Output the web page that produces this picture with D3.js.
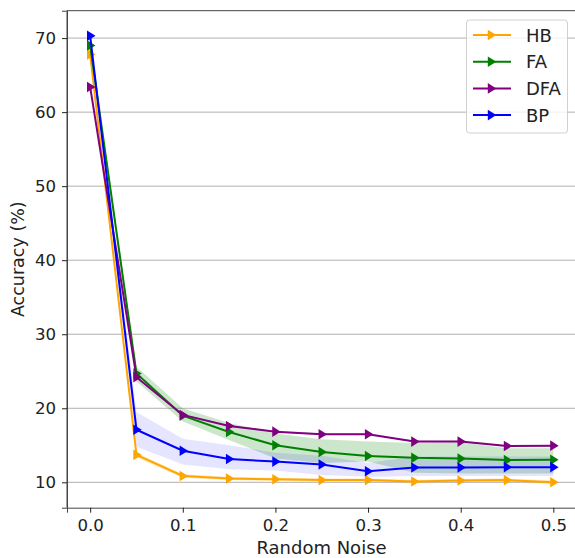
<!DOCTYPE html>
<html>
<head>
<meta charset="utf-8">
<script src="https://cdn.jsdelivr.net/npm/d3@7"></script>
<style>
  body { margin: 0; background: #fff; }
  text { font-family: "DejaVu Sans", sans-serif; fill: #222; }
</style>
</head>
<body>
<div id="chart"></div>
<script>
// data
const noise = [0, 0.05, 0.1, 0.15, 0.2, 0.25, 0.3, 0.35, 0.4, 0.45, 0.5];
const seriesNames = ['HB', 'FA', 'DFA', 'BP'];
const hbMean  = [67.8, 13.7, 10.85, 10.5, 10.4, 10.3, 10.3, 10.1, 10.25, 10.3, 10.0];
const faMean  = [69.0, 24.7, 19.0, 16.8, 15.0, 14.1, 13.55, 13.3, 13.2, 13.0, 13.05];
const dfaMean = [63.4, 24.2, 19.1, 17.6, 16.84, 16.5, 16.5, 15.5, 15.5, 14.9, 14.95];
const bpMean  = [70.3, 17.1, 14.27, 13.15, 12.8, 12.4, 11.5, 12.0, 12.0, 12.05, 12.05];
const hbLow   = [67.6, 13.4, 10.6, 10.3, 10.2, 10.1, 10.1, 9.9, 10.05, 10.1, 9.75];
const hbHigh  = [68.0, 14.0, 11.1, 10.7, 10.6, 10.5, 10.5, 10.3, 10.45, 10.5, 10.25];
const faLow   = [68.6, 23.6, 18.2, 15.7, 13.2, 12.6, 12.8, 11.3, 11.2, 11.2, 11.2];
const faHigh  = [69.4, 25.6, 20.0, 18.0, 16.6, 15.8, 15.5, 15.3, 15.4, 14.6, 14.6];
const dfaLow  = [63.3, 24.1, 19.0, 17.5, 16.75, 16.4, 16.4, 15.4, 15.4, 14.8, 14.85];
const dfaHigh = [63.5, 24.3, 19.2, 17.7, 16.95, 16.6, 16.6, 15.6, 15.6, 15.0, 15.05];
const bpLow   = [70.0, 14.8, 12.4, 11.75, 11.6, 11.0, 10.75, 10.85, 10.85, 10.85, 10.85];
const bpHigh  = [70.6, 19.5, 15.9, 15.0, 14.0, 13.6, 12.6, 13.5, 13.5, 13.5, 13.5];
const xTicks = [0, 0.1, 0.2, 0.3, 0.4, 0.5];
const yTicks = [10, 20, 30, 40, 50, 60, 70];

const width = 575;
const height = 558;
const plot = { left: 67, top: 10.7, right: 576.5, bottom: 507.7 };

const svg = d3.select('div#chart').append('svg').attr('width', width).attr('height', height);

const x = d3.scaleLinear().domain([-0.025, 0.525]).range([plot.left, plot.right]);
const y = d3.scaleLinear().domain([6.57, 73.7]).range([plot.bottom, plot.top]);

// grid
svg.append('g').selectAll('line').data(yTicks).enter().append('line')
    .attr('x1', plot.left).attr('x2', plot.right)
    .attr('y1', d => y(d)).attr('y2', d => y(d))
    .attr('stroke', '#b0b0b0').attr('stroke-width', 1);

const series = [
    { name: 'HB',  color: '#ffa500', mean: hbMean,  low: hbLow,  high: hbHigh,  alpha: 0.3 },
    { name: 'FA',  color: '#008000', mean: faMean,  low: faLow,  high: faHigh,  alpha: 0.2 },
    { name: 'DFA', color: '#800080', mean: dfaMean, low: dfaLow, high: dfaHigh, alpha: 0.2 },
    { name: 'BP',  color: '#0000ff', mean: bpMean,  low: bpLow,  high: bpHigh,  alpha: 0.1 }
];

const area = d3.area().x((d, i) => x(noise[i])).y0(d => y(d[0])).y1(d => y(d[1]));
const line = d3.line().x((d, i) => x(noise[i])).y(d => y(d));

const tri = d3.symbol().type({ draw(ctx, size) {
    const r = Math.sqrt(size) / 1.6;
    ctx.moveTo(r, 0); ctx.lineTo(-r * 0.6, -r); ctx.lineTo(-r * 0.6, r); ctx.closePath();
}}).size(72);

const elementGroup = svg.append('g');

// fills first, like matplotlib order
series.forEach(s => {
    elementGroup.append('path')
        .datum(s.low.map((v, i) => [v, s.high[i]]))
        .attr('d', area)
        .attr('fill', s.color).attr('fill-opacity', s.alpha);
});

series.forEach(s => {
    elementGroup.append('path').datum(s.mean)
        .attr('d', line).attr('fill', 'none')
        .attr('stroke', s.color).attr('stroke-width', 2);
    elementGroup.selectAll(null).data(s.mean).enter().append('path')
        .attr('d', tri)
        .attr('transform', (d, i) => `translate(${x(noise[i])},${y(d)})`)
        .attr('fill', s.color);
});

// spines
svg.append('line').attr('x1', plot.left).attr('x2', plot.left).attr('y1', plot.top).attr('y2', plot.bottom)
    .attr('stroke', '#444').attr('stroke-width', 1);
svg.append('line').attr('x1', plot.left).attr('x2', plot.right).attr('y1', plot.top).attr('y2', plot.top)
    .attr('stroke', '#444').attr('stroke-width', 1);

const xAxisGroup = svg.append('g').attr('transform', `translate(0,${plot.bottom})`);
xAxisGroup.call(d3.axisBottom(x).tickValues(xTicks).tickFormat(d3.format('.1f')).tickSize(5).tickPadding(7));
const yAxisGroup = svg.append('g').attr('transform', `translate(${plot.left},0)`);
yAxisGroup.call(d3.axisLeft(y).tickValues(yTicks).tickFormat(d3.format('d')).tickSize(5).tickPadding(6));
[xAxisGroup, yAxisGroup].forEach(g => {
    g.selectAll('.domain').attr('stroke', '#444');
    g.selectAll('.tick line').attr('stroke', '#222');
    g.selectAll('.tick text').attr('font-size', 16.6).attr('font-family', 'DejaVu Sans').attr('fill', '#222');
});

svg.append('text').attr('x', 321.5).attr('y', 554)
    .attr('text-anchor', 'middle').attr('font-size', 18).text('Random Noise');
svg.append('text').attr('transform', `translate(23.5,${(plot.top + plot.bottom) / 2}) rotate(-90)`)
    .attr('text-anchor', 'middle').attr('font-size', 17.5).text('Accuracy (%)');

// legend
const legend = svg.append('g');
legend.append('rect').attr('x', 466.5).attr('y', 20).attr('width', 101).attr('height', 113)
    .attr('rx', 3).attr('fill', '#fff').attr('fill-opacity', 0.8).attr('stroke', '#d0d0d0');
seriesNames.forEach((name, i) => {
    const s = series.find(d => d.name === name);
    const ly = 35 + i * 26.7;
    legend.append('line').attr('x1', 473).attr('x2', 511).attr('y1', ly).attr('y2', ly)
        .attr('stroke', s.color).attr('stroke-width', 2);
    legend.append('path').attr('d', tri).attr('transform', `translate(491,${ly})`).attr('fill', s.color);
    legend.append('text').attr('x', 526).attr('y', ly + 6.5).attr('font-size', 18).text(name);
});
</script>
</body>
</html>
